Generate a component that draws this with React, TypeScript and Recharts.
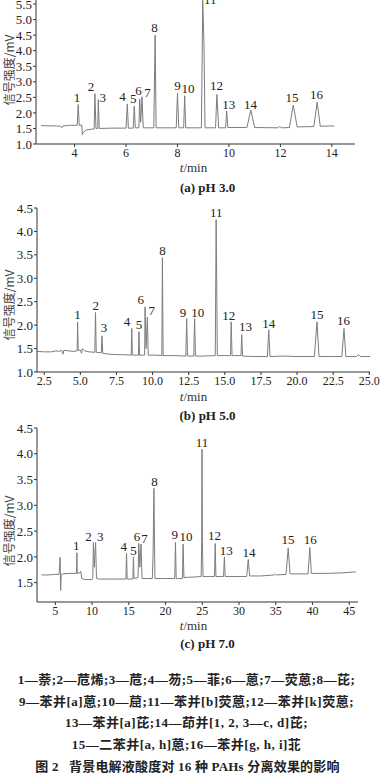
import React from "react";
import { ComposedChart, Line, Scatter, XAxis, YAxis } from "recharts";

// chromatogram traces, [t/min, signal/mV]
const traceA: [number, number][] = [
  [2.7, 1.59], [3.3, 1.58], [3.45, 1.57], [3.5, 1.52], [3.55, 1.58], [3.8, 1.6], [4.1, 1.6],
  [4.14, 2.27], [4.18, 1.6], [4.28, 1.61], [4.3, 1.3], [4.35, 1.38], [4.45, 1.45], [4.7, 1.48],
  [4.76, 1.48], [4.79, 2.62], [4.83, 1.5], [4.9, 1.5], [4.92, 2.43], [4.96, 1.5], [5.5, 1.51],
  [6.0, 1.51], [6.05, 2.29], [6.09, 1.51], [6.28, 1.51], [6.32, 2.22], [6.36, 1.52], [6.5, 1.52],
  [6.53, 2.45], [6.57, 1.7], [6.62, 2.52], [6.67, 1.52], [7.08, 1.52], [7.13, 4.5], [7.17, 1.52],
  [7.95, 1.52], [8.0, 2.63], [8.05, 1.52], [8.24, 1.52], [8.28, 2.55], [8.32, 1.52], [8.93, 1.52],
  [8.96, 3.85], [8.98, 5.63], [9.03, 4.2], [9.07, 1.52], [9.48, 1.52], [9.53, 2.59], [9.57, 2.0],
  [9.6, 1.52], [9.87, 1.52], [9.91, 2.06], [9.96, 1.53], [10.7, 1.53], [10.85, 2.09], [11.0, 1.53],
  [11.9, 1.52], [11.97, 1.56], [12.05, 1.52], [12.35, 1.53], [12.5, 2.25], [12.65, 1.55],
  [13.3, 1.56], [13.43, 2.34], [13.55, 1.57], [13.9, 1.58], [14.1, 1.58],
];

const traceB: [number, number][] = [
  [2.0, 1.44], [2.5, 1.43], [3.0, 1.43], [3.3, 1.45], [3.5, 1.44], [3.7, 1.46], [3.8, 1.38],
  [3.85, 1.46], [4.0, 1.46], [4.2, 1.45], [4.5, 1.44], [4.78, 1.45], [4.81, 2.06], [4.85, 1.46],
  [5.0, 1.47], [5.08, 1.4], [5.15, 1.5], [5.3, 1.45], [5.6, 1.43], [6.0, 1.42], [6.05, 2.27],
  [6.1, 1.42], [6.45, 1.41], [6.5, 1.77], [6.55, 1.4], [7.0, 1.38], [7.5, 1.37], [8.0, 1.37],
  [8.52, 1.36], [8.56, 1.93], [8.6, 1.36], [9.02, 1.36], [9.06, 1.86], [9.1, 1.36], [9.45, 1.36],
  [9.48, 2.39], [9.55, 1.5], [9.64, 2.17], [9.7, 1.36], [10.2, 1.36], [10.64, 1.35], [10.68, 3.44],
  [10.73, 1.35], [11.5, 1.35], [12.3, 1.34], [12.36, 2.14], [12.42, 1.34], [12.85, 1.34],
  [12.91, 2.14], [12.97, 1.34], [13.5, 1.34], [14.34, 1.35], [14.4, 4.25], [14.44, 2.9],
  [14.48, 1.35], [15.0, 1.35], [15.4, 1.35], [15.44, 2.07], [15.5, 1.35], [16.12, 1.35],
  [16.17, 1.8], [16.23, 1.34], [17.0, 1.33], [17.95, 1.33], [18.04, 1.9], [18.13, 1.33],
  [19.0, 1.34], [20.0, 1.33], [21.2, 1.33], [21.38, 2.07], [21.52, 1.33], [22.5, 1.33],
  [23.1, 1.33], [23.25, 1.93], [23.38, 1.33], [24.1, 1.33], [24.25, 1.37], [24.4, 1.33], [25.05, 1.33],
];

const traceC: [number, number][] = [
  [3.1, 1.65], [4.0, 1.65], [5.0, 1.66], [5.5, 1.66], [5.65, 1.99], [5.72, 1.35], [5.8, 1.66],
  [6.0, 1.67], [7.0, 1.68], [7.88, 1.68], [7.93, 2.08], [7.98, 1.68], [8.3, 1.69], [8.45, 1.72],
  [8.6, 1.58], [9.0, 1.56], [10.0, 1.56], [10.1, 1.6], [10.18, 2.28], [10.3, 1.8], [10.48, 2.28],
  [10.6, 1.58], [11.0, 1.57], [12.0, 1.57], [14.6, 1.57], [14.69, 2.07], [14.78, 1.57],
  [15.55, 1.57], [15.63, 2.0], [15.7, 1.58], [16.25, 1.6], [16.35, 2.26], [16.5, 1.8],
  [16.66, 2.25], [16.8, 1.58], [18.2, 1.58], [18.3, 2.05], [18.42, 3.33], [18.55, 1.58],
  [20.0, 1.58], [21.25, 1.58], [21.35, 2.28], [21.45, 1.58], [22.3, 1.58], [22.39, 2.25],
  [22.5, 1.6], [24.0, 1.61], [24.85, 1.62], [24.92, 2.3], [24.96, 4.09], [25.02, 2.3], [25.1, 1.62],
  [26.0, 1.62], [26.66, 1.62], [26.76, 2.26], [26.86, 1.62], [27.9, 1.62], [28.01, 2.0],
  [28.12, 1.62], [30.0, 1.62], [31.05, 1.62], [31.26, 1.95], [31.45, 1.63], [33.0, 1.63],
  [34.8, 1.65], [34.95, 1.67], [35.1, 1.65], [36.4, 1.66], [36.7, 2.17], [36.95, 1.67],
  [38.0, 1.67], [39.4, 1.67], [39.64, 2.18], [39.85, 1.68], [42.0, 1.68], [44.0, 1.69], [45.9, 1.71],
];

// peak numbers, placed at [t, signal] in the plot
const peakIds = [1, 2, 3, 4, 5, 6, 7, 8, 9, 10, 11, 12, 13, 14, 15, 16];
const labelPosA: [number, number][] = [
  [4.09, 2.5], [4.64, 2.85], [5.09, 2.5], [5.86, 2.53], [6.28, 2.45], [6.48, 2.72], [6.83, 2.64],
  [7.11, 4.75], [8.0, 2.87], [8.41, 2.77], [9.27, 5.64], [9.52, 2.87], [9.99, 2.27], [10.84, 2.27],
  [12.45, 2.5], [13.4, 2.6],
];
const labelPosB: [number, number][] = [
  [4.81, 2.22], [6.07, 2.41], [6.64, 1.94], [8.23, 2.07], [9.06, 2.01], [9.18, 2.54], [9.94, 2.31],
  [10.68, 3.59], [12.1, 2.26], [13.13, 2.28], [14.4, 4.4], [15.28, 2.21], [16.43, 1.97],
  [18.04, 2.03], [21.38, 2.22], [23.22, 2.1],
];
const labelPosC: [number, number][] = [
  [7.84, 2.23], [9.5, 2.39], [11.12, 2.39], [14.32, 2.21], [15.63, 2.13], [16.12, 2.39],
  [17.12, 2.35], [18.51, 3.47], [21.26, 2.43], [22.8, 2.39], [24.96, 4.21], [26.66, 2.41],
  [28.28, 2.12], [31.35, 2.08], [36.66, 2.34], [39.69, 2.34],
];

const xTicksA = [4, 6, 8, 10, 12, 14];
const yTicksA = [1.0, 1.5, 2.0, 2.5, 3.0, 3.5, 4.0, 4.5, 5.0, 5.5];
const xTicksB = [2.5, 5.0, 7.5, 10.0, 12.5, 15.0, 17.5, 20.0, 22.5, 25.0];
const yTicksB = [1.0, 1.5, 2.0, 2.5, 3.0, 3.5, 4.0, 4.5];
const xTicksC = [5, 10, 15, 20, 25, 30, 35, 40, 45];
const yTicksC = [1.5, 2.0, 2.5, 3.0, 3.5, 4.0, 4.5];

const compounds = [
  "1—萘;2—苊烯;3—苊;4—芴;5—菲;6—蒽;7—荧蒽;8—芘;",
  "9—苯并[a]蒽;10—䓛;11—苯并[b]荧蒽;12—苯并[k]荧蒽;",
  "13—苯并[a]芘;14—茚并[1, 2, 3—c, d]芘;",
  "15—二苯并[a, h]蒽;16—苯并[g, h, i]苝",
];

const SERIF = "'Liberation Serif', 'DejaVu Serif', serif";
const CJK = "'Noto Sans CJK SC', sans-serif";
const MIXED = `'Liberation Serif', ${CJK}`;

const toPoints = (arr: [number, number][]) => arr.map(([t, v]) => ({ t, v }));
const toLabels = (arr: [number, number][]) => arr.map(([t, v], i) => ({ t, v, id: peakIds[i] }));

const PeakLabel = (props: any) => (
  <text
    x={props.cx}
    y={props.cy}
    textAnchor="middle"
    dominantBaseline="central"
    fontFamily={SERIF}
    fontSize={13}
    fill="#222"
  >
    {props.payload.id}
  </text>
);

type PanelProps = {
  top: number;
  height: number;
  marginTop: number;
  marginRight: number;
  yWidth: number;
  trace: [number, number][];
  labels: [number, number][];
  xDomain: [number, number];
  yDomain: [number, number];
  xTicks: number[];
  yTicks: number[];
  xDigits: number;
};

function Panel(p: PanelProps) {
  return (
    <div style={{ position: "absolute", left: 0, top: p.top }}>
      <ComposedChart
        width={383}
        height={p.height}
        data={toPoints(p.trace)}
        margin={{ top: p.marginTop, right: p.marginRight, bottom: 0, left: 0 }}
      >
        <XAxis
          type="number"
          dataKey="t"
          domain={p.xDomain}
          ticks={p.xTicks}
          allowDataOverflow
          interval={0}
          height={20}
          tickSize={3}
          tickMargin={1}
          stroke="#333"
          tick={{ fill: "#222", fontSize: 12, fontFamily: SERIF }}
          tickFormatter={(v: number) => v.toFixed(p.xDigits)}
        />
        <YAxis
          type="number"
          dataKey="v"
          domain={p.yDomain}
          ticks={p.yTicks}
          allowDataOverflow
          interval={0}
          width={p.yWidth}
          tickSize={3}
          tickMargin={1}
          stroke="#333"
          tick={{ fill: "#222", fontSize: 13, fontFamily: SERIF }}
          tickFormatter={(v: number) => v.toFixed(1)}
        />
        <Line
          dataKey="v"
          type="linear"
          dot={false}
          stroke="#7d7d7d"
          strokeWidth={1}
          isAnimationActive={false}
        />
        <Scatter data={toLabels(p.labels)} dataKey="v" shape={PeakLabel} isAnimationActive={false} />
      </ComposedChart>
    </div>
  );
}

const abs = (top: number, extra: React.CSSProperties = {}): React.CSSProperties => ({
  position: "absolute",
  left: 0,
  width: 383,
  top,
  textAlign: "center",
  whiteSpace: "nowrap",
  ...extra,
});

function YLabel({ cy }: { cy: number }) {
  return (
    <div
      style={{
        position: "absolute",
        left: 8,
        top: cy,
        transform: "translate(-50%, -50%) rotate(-90deg)",
        fontFamily: CJK,
        fontSize: 12,
        color: "#444",
        whiteSpace: "nowrap",
      }}
    >
      信号强度/mV
    </div>
  );
}

export default function App() {
  return (
    <div
      style={{
        position: "absolute",
        left: 0,
        top: 0,
        width: 383,
        height: 775,
        background: "#fff",
        overflow: "hidden",
      }}
    >
      <Panel
        top={0}
        height={164}
        marginTop={0}
        marginRight={28}
        yWidth={36}
        trace={traceA}
        labels={labelPosA}
        xDomain={[2.5, 14.9]}
        yDomain={[1, 5.63]}
        xTicks={xTicksA}
        yTicks={yTicksA}
        xDigits={0}
      />
      <Panel
        top={198}
        height={194}
        marginTop={10}
        marginRight={13}
        yWidth={37}
        trace={traceB}
        labels={labelPosB}
        xDomain={[2.0, 25.05]}
        yDomain={[1, 4.5]}
        xTicks={xTicksB}
        yTicks={yTicksB}
        xDigits={1}
      />
      <Panel
        top={418}
        height={204}
        marginTop={10}
        marginRight={25}
        yWidth={37}
        trace={traceC}
        labels={labelPosC}
        xDomain={[2.5, 46.2]}
        yDomain={[1.125, 4.5]}
        xTicks={xTicksC}
        yTicks={yTicksC}
        xDigits={0}
      />

      <YLabel cy={70} />
      <YLabel cy={305} />
      <YLabel cy={531} />

      <div style={abs(160, { fontFamily: SERIF, fontSize: 13, color: "#333", paddingLeft: 2 })}>
        <i>t</i>/min
      </div>
      <div style={abs(180, { fontFamily: SERIF, fontSize: 13, fontWeight: 700, color: "#222", paddingLeft: 16 })}>
        (a) pH 3.0
      </div>
      <div style={abs(389, { fontFamily: SERIF, fontSize: 13, color: "#333", paddingLeft: 2 })}>
        <i>t</i>/min
      </div>
      <div style={abs(408, { fontFamily: SERIF, fontSize: 13, fontWeight: 700, color: "#222", paddingLeft: 16 })}>
        (b) pH 5.0
      </div>
      <div style={abs(618, { fontFamily: SERIF, fontSize: 13, color: "#333", paddingLeft: 2 })}>
        <i>t</i>/min
      </div>
      <div style={abs(636, { fontFamily: SERIF, fontSize: 13, fontWeight: 700, color: "#222", paddingLeft: 16 })}>
        (c) pH 7.0
      </div>

      {compounds.map((line, i) => (
        <div
          key={i}
          style={abs(669 + i * 21.7, {
            fontFamily: MIXED,
            fontSize: 13,
            fontWeight: 700,
            color: "#222",
            letterSpacing: 0.5,
            left: -5,
          })}
        >
          {line}
        </div>
      ))}
      <div style={abs(756, { fontFamily: MIXED, fontSize: 13, fontWeight: 700, color: "#222", letterSpacing: 0.2, left: -4 })}>
        图 2&nbsp;&nbsp;&nbsp;背景电解液酸度对 16 种 PAHs 分离效果的影响
      </div>
    </div>
  );
}
